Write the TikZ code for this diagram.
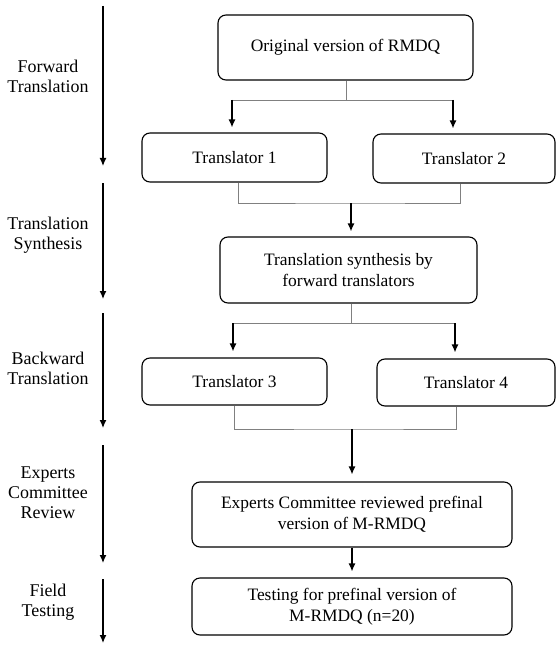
\documentclass[tikz,border=0pt]{standalone}
\usepackage{fontspec}
\setmainfont{Liberation Serif}
\usetikzlibrary{arrows.meta}
\begin{document}
\begin{tikzpicture}[x=1bp,y=-1bp,
	stage/.style={draw,rounded corners=8bp,line width=1.1bp,align=center,inner sep=0pt,font=\fontsize{17.5}{21}\selectfont},
	phase/.style={align=center,font=\fontsize{18}{20}\selectfont},
	flow/.style={-{Latex[length=8bp,width=7bp]},line width=1.3bp},
	branch/.style={draw=gray,line width=0.7bp}]
	\useasboundingbox (0,0) rectangle (556,645);

	% boxes
	\node[stage,minimum width=255bp,minimum height=65bp] at (345.5,47.5) (orig) {Original version of RMDQ};
	\node[stage,minimum width=185bp,minimum height=49bp] at (234.5,157.5) (t1) {Translator 1};
	\node[stage,minimum width=182bp,minimum height=49bp] at (464,158.5) (t2) {Translator 2};
	\node[stage,minimum width=257bp,minimum height=66bp] at (348.5,270) (syn) {Translation synthesis by\\forward translators};
	\node[stage,minimum width=185bp,minimum height=47bp] at (234.5,381.5) (t3) {Translator 3};
	\node[stage,minimum width=178bp,minimum height=47bp] at (466,382.5) (t4) {Translator 4};
	\node[stage,minimum width=320bp,minimum height=65bp] at (352,514.5) (exp) {Experts Committee reviewed prefinal\\version of M-RMDQ};
	\node[stage,minimum width=320bp,minimum height=57bp] at (352,606.5) (test) {Testing for prefinal version of\\M-RMDQ (n=20)};

	% phase labels
	\node[phase] at (48,76) (fwd) {Forward\\Translation};
	\node[phase] at (48,235) (synl) {Translation\\Synthesis};
	\node[phase] at (48,368) (bwd) {Backward\\Translation};
	\node[phase] at (48,493) (rev) {Experts\\Committee\\Review};
	\node[phase] at (48,602) (fld) {Field\\Testing};

	\foreach \i/\ya/\yb in {1/6/166,2/183/299,3/313/428,4/445/563,5/579/643}
	{
		\coordinate (s\i) at (103,\ya);
		\coordinate (e\i) at (103,\yb);
		\draw[flow] (s\i) -- (e\i);
	}

	% forks and joins
	\coordinate (f1) at (346,100);
	\coordinate (f1a) at (232,100);
	\coordinate (f1b) at (453,100);
	\draw[branch] (orig.south -| f1) -- (f1) (f1a) -- (f1b);
	\draw[flow,shorten >=5bp] (f1a) -- (f1a |- t1.north);
	\draw[flow,shorten >=5bp] (f1b) -- (f1b |- t2.north);

	\coordinate (j1) at (351,203);
	\draw[branch] ([xshift=3.5bp]t1.south) |- (j1) -| ([xshift=-4bp]t2.south);
	\draw[flow,shorten >=5bp] (j1) -- (j1 |- syn.north);

	\coordinate (f2) at (351,323);
	\coordinate (f2a) at (233,323);
	\coordinate (f2b) at (455,323);
	\draw[branch] (syn.south -| f2) -- (f2) (f2a) -- (f2b);
	\draw[flow,shorten >=6bp] (f2a) -- (f2a |- t3.north);
	\draw[flow,shorten >=6bp] (f2b) -- (f2b |- t4.north);

	\coordinate (j2) at (352,429);
	\draw[branch] ([xshift=-0.5bp]t3.south) |- (j2) -| ([xshift=-10bp]t4.south);
	\draw[flow,shorten >=7bp] (j2) -- (j2 |- exp.north);
	\draw[flow,shorten >=6bp] (exp) -- (test);
\end{tikzpicture}
\end{document}
